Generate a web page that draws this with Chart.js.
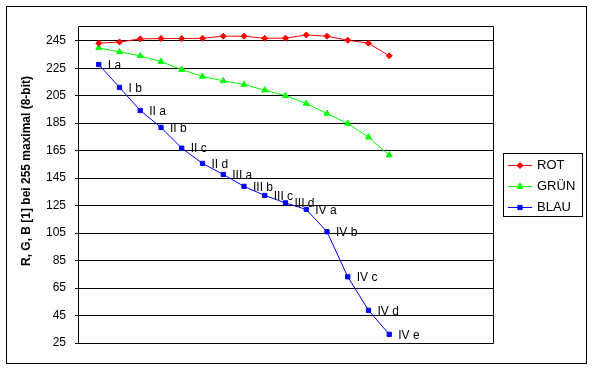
<!DOCTYPE html>
<html>
<head>
<meta charset="utf-8">
<script src="https://cdn.jsdelivr.net/npm/chart.js@4/dist/chart.umd.min.js"></script>
<style>
  html, body { margin: 0; padding: 0; background: #fff; }
  #wrap { width: 593px; height: 370px; }
</style>
</head>
<body>
<div id="wrap"><canvas id="chart" width="593" height="370"></canvas></div>
<script>
// point names (shown next to the blue points)
const pointNames = ['I a','I b','II a','II b','II c','II d','III a','III b','III c','III d','IV a','IV b','IV c','IV d','IV e'];

// values
const rot   = [243.2, 244.1, 246.3, 246.6, 246.6, 246.8, 248.3, 248.3, 246.8, 246.9, 249.2, 248.3, 245.4, 243.2, 234.0];
const gruen = [239.8, 236.9, 234.0, 229.8, 224.0, 219.0, 215.8, 213.1, 209.0, 205.0, 199.3, 192.0, 184.8, 174.8, 161.7];
const blau  = [227.7, 211.0, 194.2, 181.9, 166.8, 155.7, 147.7, 139.0, 132.4, 127.0, 122.2, 106.0,  73.2,  48.8,  31.3];

const yTicks = [25, 45, 65, 85, 105, 125, 145, 165, 185, 205, 225, 245];
const seriesNames = ['ROT', 'GRÜN', 'BLAU'];

const FONT = '"Liberation Sans", Arial, sans-serif';

// excel category axis has 20 slots, points sit on slots 1..15
function toPoints(arr) {
  return arr.map((v, i) => ({ x: i + 1, y: v }));
}

const frame = {
  id: 'frame',
  beforeDraw(chart) {
    const ctx = chart.ctx;
    ctx.save();
    ctx.fillStyle = '#fff';
    ctx.fillRect(0, 0, chart.width, chart.height);
    ctx.strokeStyle = '#000';
    ctx.lineWidth = 1;
    ctx.strokeRect(6.5, 6.5, 580, 357);
    ctx.restore();
  },
  afterDraw(chart) {
    const ctx = chart.ctx;
    const a = chart.chartArea;
    ctx.save();
    ctx.strokeStyle = '#000';
    ctx.lineWidth = 1;
    ctx.beginPath();
    ctx.moveTo(Math.round(a.left) + 0.5, Math.round(a.top) - 0.5);
    ctx.lineTo(Math.round(a.right) + 0.5, Math.round(a.top) - 0.5);
    ctx.lineTo(Math.round(a.right) + 0.5, Math.round(a.bottom) + 0.5);
    ctx.lineTo(Math.round(a.left) + 0.5, Math.round(a.bottom) + 0.5);
    ctx.stroke();

    // y axis title
    ctx.fillStyle = '#000';
    ctx.font = 'bold 12px ' + FONT;
    ctx.translate(27, 171);
    ctx.rotate(-Math.PI / 2);
    ctx.textAlign = 'center';
    ctx.textBaseline = 'middle';
    ctx.fillText('R, G, B [1] bei 255 maximal (8-bit)', 0, 0);
    ctx.restore();

    // legend
    ctx.save();
    ctx.strokeStyle = '#000';
    ctx.lineWidth = 1;
    ctx.strokeRect(503.5, 153.5, 79, 63);
    ctx.font = '13px ' + FONT;
    ctx.textBaseline = 'middle';
    const rows = [165, 186, 207];
    chart.data.datasets.forEach((ds, i) => {
      const y = rows[i] + 0.5;
      ctx.strokeStyle = ds.borderColor;
      ctx.fillStyle = ds.borderColor;
      ctx.beginPath();
      ctx.moveTo(508, y);
      ctx.lineTo(532, y);
      ctx.stroke();
      Chart.helpers.drawPoint(ctx, {
        pointStyle: ds.pointStyle,
        radius: ds.pointRadius,
        borderWidth: 1
      }, 520, y);
      ctx.fillStyle = '#000';
      ctx.fillText(seriesNames[i], 537, y);
    });
    ctx.restore();
  },
  afterDatasetsDraw(chart) {
    const ctx = chart.ctx;
    const meta = chart.getDatasetMeta(2);
    ctx.save();
    ctx.fillStyle = '#000';
    ctx.font = '12px ' + FONT;
    ctx.textBaseline = 'middle';
    meta.data.forEach((pt, i) => {
      ctx.fillText(pointNames[i], pt.x + 9, pt.y + 1);
    });
    ctx.restore();
  }
};

function style(color, shape, r) {
  return {
    borderColor: color,
    backgroundColor: color,
    pointBackgroundColor: color,
    pointBorderColor: color,
    pointStyle: shape,
    pointRadius: r,
    pointHoverRadius: r,
    borderWidth: 1,
    tension: 0
  };
}

Chart.defaults.font.family = FONT;

new Chart(document.getElementById('chart'), {
  type: 'line',
  data: {
    datasets: [
      Object.assign({ label: seriesNames[0], data: toPoints(rot) }, style('#ff0000', 'rectRot', 3)),
      Object.assign({ label: seriesNames[1], data: toPoints(gruen) }, style('#00ff00', 'triangle', 3.5)),
      Object.assign({ label: seriesNames[2], data: toPoints(blau) }, style('#0000ff', 'rect', 3))
    ]
  },
  options: {
    responsive: false,
    animation: false,
    layout: { padding: { left: 0, right: 100, top: 27, bottom: 27 } },
    plugins: { legend: { display: false }, tooltip: { enabled: false } },
    scales: {
      x: {
        type: 'linear',
        min: 0,
        max: 20,
        display: false
      },
      y: {
        min: 25,
        max: 255,
        afterBuildTicks(scale) {
          scale.ticks = yTicks.map(v => ({ value: v }));
        },
        afterFit(scale) {
          scale.width = 78;
        },
        grid: { color: '#000', lineWidth: 1, tickLength: 3, drawOnChartArea: true },
        border: { color: '#000', width: 1 },
        ticks: {
          color: '#000',
          font: { size: 12, family: FONT },
          padding: 9
        }
      }
    }
  },
  plugins: [frame]
});
</script>
</body>
</html>
